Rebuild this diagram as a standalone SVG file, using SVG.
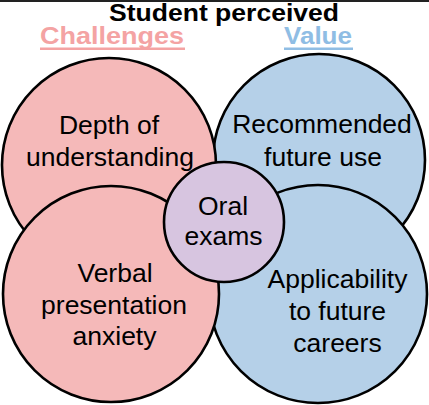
<svg xmlns="http://www.w3.org/2000/svg" width="429" height="405" viewBox="0 0 429 405">
<style>
text{font-family:"Liberation Sans",Arial,sans-serif;text-anchor:middle}
.t{font-size:26.5px;fill:#000}
.h{font-size:24px;font-weight:bold}
.c{stroke:#000;stroke-width:2.6}
.pink{fill:#F5B9B9}
.blue{fill:#B5D0E8}
.purple{fill:#D7C5E0}
</style>
<rect x="0" y="0" width="429" height="405" fill="#fff"/>
<rect x="0" y="0" width="429" height="2" fill="#222"/>
<g id="title">
<text class="h" x="224" y="20.5" fill="#000" textLength="230" lengthAdjust="spacingAndGlyphs">Student perceived</text>
<text class="h" x="112" y="44" fill="#F4A3A3" textLength="144" lengthAdjust="spacingAndGlyphs">Challenges</text>
<rect x="40" y="47.5" width="145" height="2.5" fill="#F4A3A3"/>
<text class="h" x="318" y="44" fill="#8FBDE4" textLength="68" lengthAdjust="spacingAndGlyphs">Value</text>
<rect x="284" y="47.5" width="69" height="2.5" fill="#8FBDE4"/>
</g>
<g id="connectors"></g>
<g id="recommended">
<circle class="c blue" cx="319" cy="160" r="106"/>
<text class="t" x="322" y="133">Recommended</text>
<text class="t" x="323" y="166">future use</text>
</g>
<g id="applicability">
<circle class="c blue" cx="318" cy="294" r="109"/>
<text class="t" x="337.5" y="288">Applicability</text>
<text class="t" x="337.5" y="320">to future</text>
<text class="t" x="337.5" y="352">careers</text>
</g>
<g id="depth">
<circle class="c pink" cx="109" cy="165" r="107"/>
<text class="t" x="109" y="134">Depth of</text>
<text class="t" x="110" y="166">understanding</text>
</g>
<g id="verbal">
<circle class="c pink" cx="111" cy="294" r="108"/>
<text class="t" x="115" y="282">Verbal</text>
<text class="t" x="114" y="314">presentation</text>
<text class="t" x="114.5" y="345">anxiety</text>
</g>
<g id="oral">
<circle class="c purple" cx="224" cy="222" r="60"/>
<text class="t" x="223" y="215">Oral</text>
<text class="t" x="223.5" y="245">exams</text>
</g>
</svg>
